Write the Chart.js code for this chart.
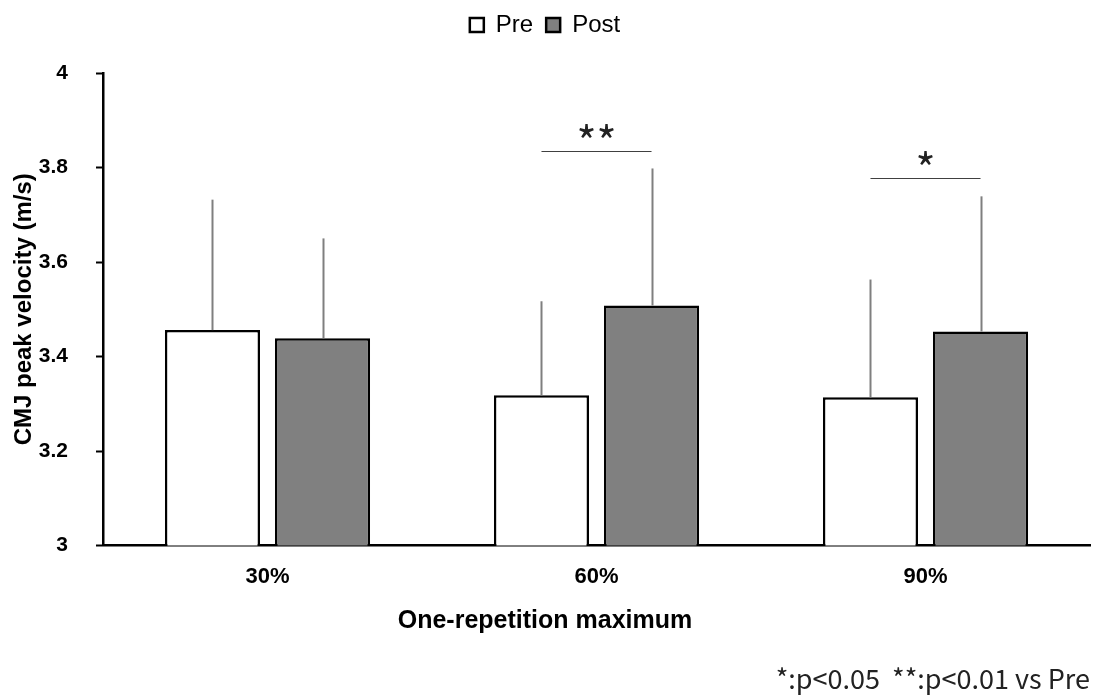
<!DOCTYPE html>
<html>
<head>
<meta charset="utf-8">
<script src="https://cdn.jsdelivr.net/npm/chart.js@4/dist/chart.umd.min.js"></script>
<style>
  html, body { margin: 0; padding: 0; background: #fff; }
  #wrap { width: 1101px; height: 698px; }
</style>
</head>
<body>
<div id="wrap"><canvas id="cmjChart" width="1101" height="698"></canvas></div>
<script>
// 負荷条件ごとのCMJピーク速度（平均 ± SD）
var categories = ['30%', '60%', '90%'];
var preMean = [3.456, 3.318, 3.314];
var preSD = [0.276, 0.199, 0.249];
var postMean = [3.439, 3.508, 3.453];
var postSD = [0.211, 0.290, 0.286];

// 有意差マーク（Pre vs Post）と横線の高さ
var sigMarks = ['', '**', '*'];
var sigHeights = [null, 3.836, 3.777];

var yMin = 3;
var yMax = 4;
var yStep = 0.2;

var sdLists = [preSD, postSD];

// 凡例の下に余白を取る（グラフ上端を下げる）
var legendSpacePlugin = {
  id: 'legendSpace',
  beforeInit: function(chart) {
    var originalFit = chart.legend.fit;
    chart.legend.fit = function fit() {
      originalFit.bind(chart.legend)();
      this.height = 73;
    };
  }
};

// エラーバー（上側のみ、キャップなし）
var errorBarPlugin = {
  id: 'errorBars',
  afterDatasetsDraw: function(chart) {
    var ctx = chart.ctx;
    var yScale = chart.scales.y;
    ctx.save();
    ctx.strokeStyle = '#7f7f7f';
    ctx.lineWidth = 2;
    chart.data.datasets.forEach(function(ds, di) {
      var meta = chart.getDatasetMeta(di);
      meta.data.forEach(function(bar, i) {
        var top = yScale.getPixelForValue(ds.data[i] + sdLists[di][i]);
        ctx.beginPath();
        ctx.moveTo(Math.round(bar.x) + 0.5, bar.y);
        ctx.lineTo(Math.round(bar.x) + 0.5, top);
        ctx.stroke();
      });
    });
    ctx.restore();
  }
};

// 有意差の横線とアスタリスク
var sigPlugin = {
  id: 'sigMarks',
  afterDatasetsDraw: function(chart) {
    var ctx = chart.ctx;
    var yScale = chart.scales.y;
    var preMeta = chart.getDatasetMeta(0);
    var postMeta = chart.getDatasetMeta(1);
    ctx.save();
    sigMarks.forEach(function(mark, i) {
      if (!mark) return;
      var x1 = preMeta.data[i].x;
      var x2 = postMeta.data[i].x;
      var y = Math.round(yScale.getPixelForValue(sigHeights[i])) + 0.5;
      ctx.strokeStyle = '#404040';
      ctx.lineWidth = 1.2;
      ctx.beginPath();
      ctx.moveTo(x1, y);
      ctx.lineTo(x2, y);
      ctx.stroke();
      ctx.fillStyle = '#222';
      ctx.font = '43px "Noto Sans CJK JP"';
      ctx.textAlign = 'center';
      ctx.textBaseline = 'middle';
      ctx.fillText(mark, (x1 + x2) / 2, y - 10);
    });
    ctx.restore();
  }
};

Chart.defaults.color = '#000';
Chart.defaults.font.family = 'Arial, "Liberation Sans", sans-serif';

var ctx = document.getElementById('cmjChart').getContext('2d');
var cmjChart = new Chart(ctx, {
  type: 'bar',
  data: {
    labels: categories,
    datasets: [
      {
        label: 'Pre',
        data: preMean,
        backgroundColor: '#ffffff',
        borderColor: '#000000',
        borderWidth: 2.5,
        borderSkipped: false
      },
      {
        label: 'Post',
        data: postMean,
        backgroundColor: '#808080',
        borderColor: '#000000',
        borderWidth: 2.5,
        borderSkipped: false
      }
    ]
  },
  options: {
    responsive: false,
    animation: false,
    devicePixelRatio: 1,
    layout: {
      padding: { top: 0, right: 11, bottom: 0, left: 0 }
    },
    datasets: {
      bar: {
        categoryPercentage: 0.669,
        barPercentage: 0.864
      }
    },
    scales: {
      x: {
        grid: { display: false, drawTicks: false },
        border: { display: true, color: '#000', width: 2.5 },
        ticks: {
          padding: 18,
          font: { size: 22, weight: 'bold' }
        },
        afterFit: function(scale) {
          scale.height = 61;
        }
      },
      y: {
        min: yMin,
        max: yMax,
        grid: {
          drawOnChartArea: false,
          drawTicks: true,
          tickLength: 7,
          tickColor: '#000',
          tickWidth: 2
        },
        border: { display: true, color: '#000', width: 2.5 },
        ticks: {
          stepSize: yStep,
          padding: 28,
          font: { size: 21, weight: 'bold' },
          callback: function(value) {
            return String(Math.round(value * 10) / 10);
          }
        },
        title: {
          display: true,
          text: 'CMJ peak velocity (m/s)',
          font: { size: 24, weight: 'bold' },
          padding: { top: 10, bottom: 0 }
        },
        afterFit: function(scale) {
          scale.width = 103;
        }
      }
    },
    plugins: {
      legend: {
        display: true,
        position: 'top',
        labels: {
          boxWidth: 14,
          boxHeight: 14,
          padding: 13,
          font: { size: 24 }
        }
      },
      // 横軸タイトル（キャンバス中央に配置）
      subtitle: {
        display: true,
        position: 'bottom',
        text: 'One-repetition maximum',
        font: { size: 25, weight: 'bold' },
        padding: { top: 0, bottom: 26 }
      },
      // 有意水準の注記
      title: {
        display: true,
        position: 'bottom',
        align: 'end',
        text: '*:p<0.05  **:p<0.01 vs Pre',
        color: '#222',
        font: { size: 27, family: '"Noto Sans CJK JP"', weight: 'normal' },
        padding: { top: 0, bottom: 3 }
      },
      tooltip: { enabled: false }
    }
  },
  plugins: [legendSpacePlugin, errorBarPlugin, sigPlugin]
});
</script>
</body>
</html>
